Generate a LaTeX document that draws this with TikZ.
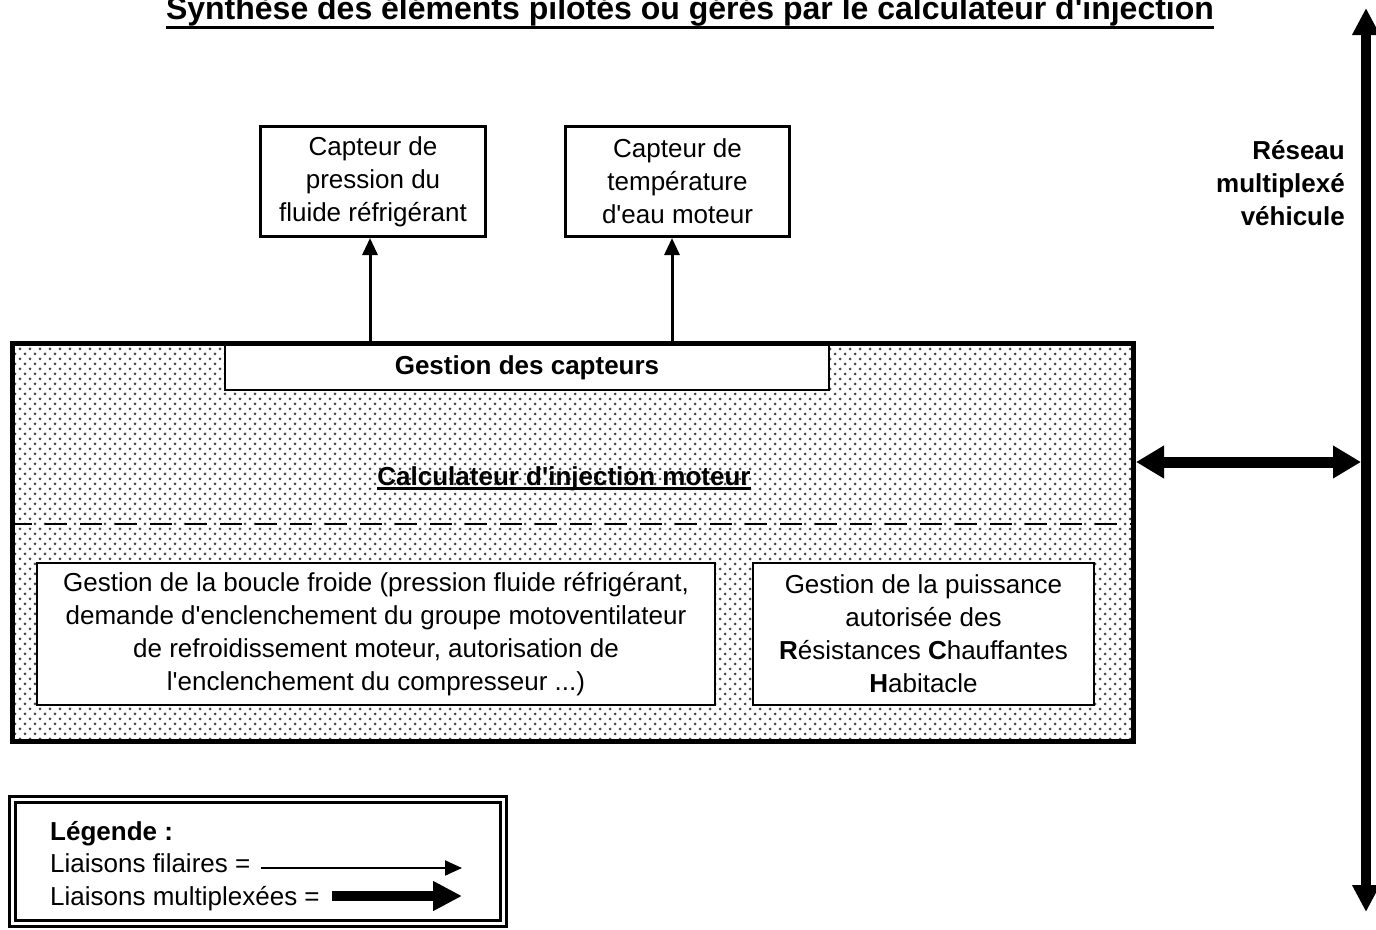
\documentclass[tikz,border=0pt]{standalone}
\usepackage{fontspec}
\setmainfont{Liberation Sans}
\usetikzlibrary{arrows.meta,patterns}
\pgfdeclarepatternformonly{stipple}{\pgfqpoint{-2pt}{-2pt}}{\pgfqpoint{7pt}{7pt}}{\pgfqpoint{10pt}{10pt}}{%
  \pgfpathcircle{\pgfqpoint{0pt}{0pt}}{1.5pt}%
  \pgfpathcircle{\pgfqpoint{5pt}{5pt}}{1.5pt}%
  \pgfusepath{fill}}
\newcommand\bodyfont{\fontsize{26pt}{33pt}\selectfont}
\newcommand\apos{\textquotesingle}
\newcommand\thul[3]{\setbox0=\hbox{#3}\rlap{\vrule width\wd0 height -#1 depth \dimexpr #1+#2\relax}\box0}
\tikzset{
  txt/.style={font=\bodyfont, align=center, inner sep=0pt},
  boldtxt/.style={txt, font=\bodyfont\bfseries},
  boxed/.style={txt, draw, fill=white, line width=#1},
  wire/.style={line width=3pt, -{Triangle[length=17pt,width=15pt]}},
  busarrow/.style={line width=11pt, {Triangle[length=28pt,width=31pt]}-{Triangle[length=28pt,width=31pt]}},
  busv/.style={line width=10pt, {Triangle[length=27pt,width=26pt]}-{Triangle[length=27pt,width=26pt]}},
}
\begin{document}
\begin{tikzpicture}[x=1pt,y=-1pt]
\useasboundingbox (0,0) rectangle (1376,929);
% title
\node[anchor=base, font=\bfseries\fontsize{32pt}{38pt}\selectfont, inner sep=0pt] (title) at (690,19)
  {\thul{6.5pt}{3pt}{Synthèse des éléments pilotés ou gérés par le calculateur d\apos injection}};
% calculator
\node[draw, line width=5pt, pattern=stipple, pattern color=black!72, minimum width=1121pt, minimum height=398pt, inner sep=0pt] (calc) at (573,542) {};
\node[boldtxt, anchor=base] (calclabel) at (564,485) {\thul{2pt}{2.5pt}{Calculateur d\apos injection moteur}};
\draw[line width=2.5pt, dash pattern=on 22pt off 13pt] (calc.west |- 0,524) -- (calc.east |- 0,524);
\node[boxed=2.5pt, font=\bodyfont\bfseries, minimum width=604pt, minimum height=45pt] (gc) at (527,367.5) {Gestion des capteurs};
% sensors
\node[boxed=3pt, minimum width=225pt, minimum height=110pt] (c1) at (373,181.5) {Capteur de\\pression du\\fluide réfrigérant};
\node[boxed=3pt, minimum width=224pt, minimum height=110pt] (c2) at (677.5,181.5) {Capteur de\\température\\d\apos eau moteur};
\draw[wire] ([xshift=-3pt]c1.south |- gc.north) -- ([xshift=-3pt]c1.south);
\draw[wire] ([xshift=-5.5pt]c2.south |- gc.north) -- ([xshift=-5.5pt]c2.south);
% inner boxes
\node[boxed=2pt, minimum width=678pt, minimum height=142pt] (bf) at (376,634)
  {Gestion de la boucle froide (pression fluide réfrigérant,\\demande d\apos enclenchement du groupe motoventilateur\\de refroidissement moteur, autorisation de\\l\apos enclenchement du compresseur ...)};
\node[boxed=2pt, minimum width=341pt, minimum height=142pt] (rch) at (923.5,634)
  {Gestion de la puissance\\autorisée des\\\textbf{R}ésistances \textbf{C}hauffantes\\\textbf{H}abitacle};
% network
\node[boldtxt, align=right, anchor=east] (res) at (1345,183) {Réseau\\multiplexé\\véhicule};
\coordinate (bt) at (1366,8);
\coordinate (bb) at (1366,912);
\draw[busv] (bb) -- (bt);
\coordinate (hx) at (1361,462);
\draw[busarrow] (calc.east |- hx) -- (hx);
% legend
\node[draw, double, line width=3.3pt, double distance=2.7pt, minimum width=491pt, minimum height=124pt] (leg) at (257.75,861.5) {};
\node[boldtxt, anchor=base west] (lg) at (50,840) {Légende :};
\node[txt, anchor=base west] (lf) at (50,872) {Liaisons filaires =};
\node[txt, anchor=base west] (lm) at (50,905) {Liaisons multiplexées =};
\coordinate (le1) at (462,868);
\coordinate (le2) at (462,896);
\draw[line width=2pt, -{Triangle[length=17pt,width=15pt]}] ([xshift=10pt]lf.east |- le1) -- (le1);
\draw[line width=10pt, -{Triangle[length=29pt,width=28pt]}] ([xshift=12pt]lm.east |- le2) -- (le2);
\end{tikzpicture}
\end{document}
